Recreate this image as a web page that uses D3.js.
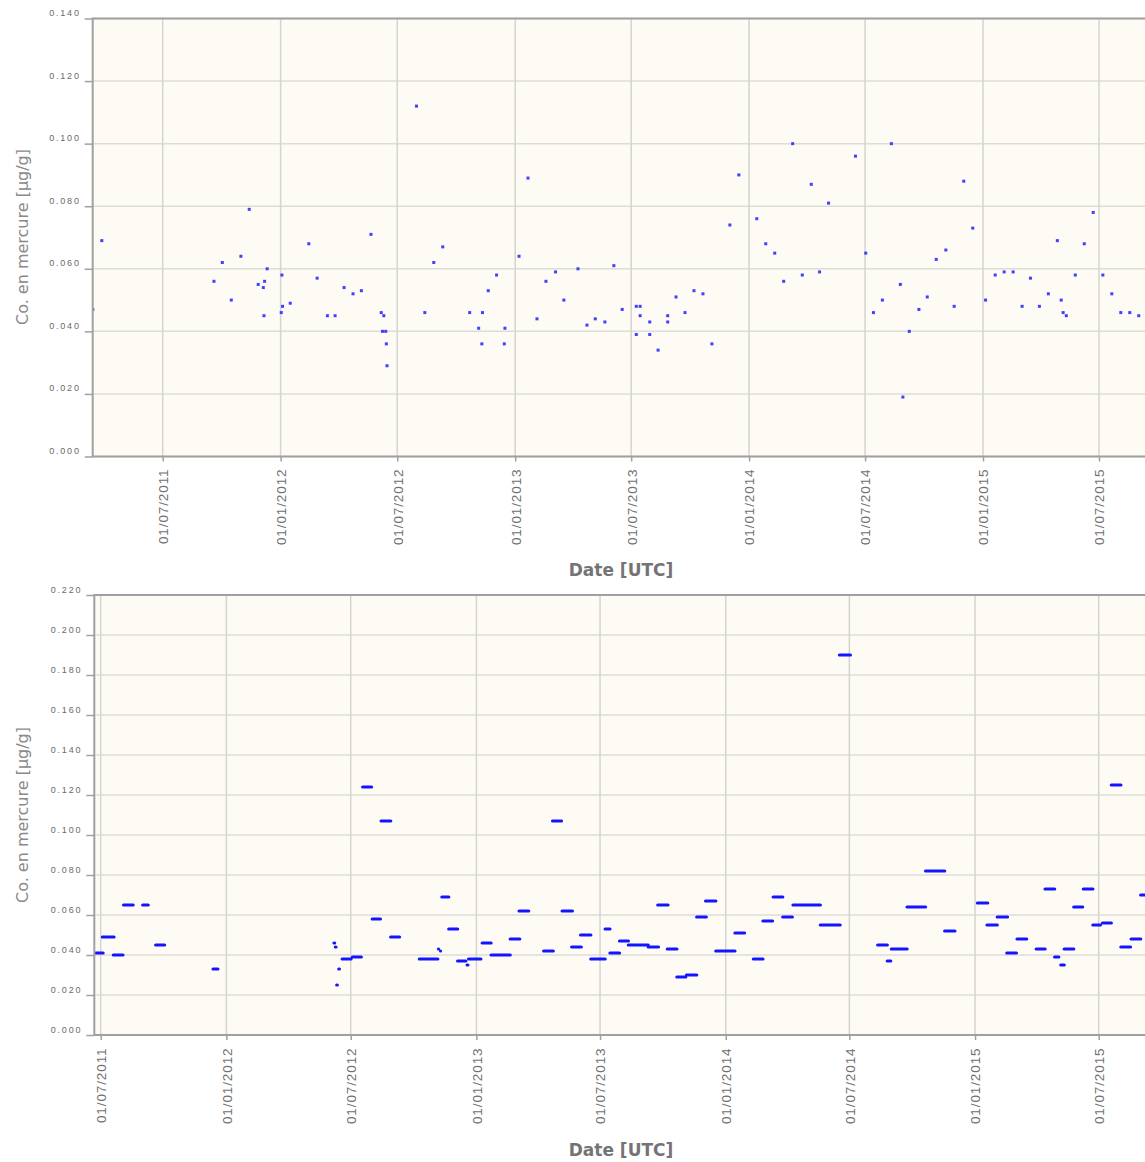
<!DOCTYPE html>
<html><head><meta charset="utf-8">
<script src="https://cdn.jsdelivr.net/npm/d3@7"></script>
<style>body{margin:0;background:#fff}svg{display:block}</style>
</head><body>
<svg id="c" width="1145" height="1162"></svg>
<script>
// ---- data ----
const xTickDates = ["2011-07-01","2012-01-01","2012-07-01","2013-01-01","2013-07-01","2014-01-01","2014-07-01","2015-01-01","2015-07-01"];
const xTickLabels = ["01/07/2011","01/01/2012","01/07/2012","01/01/2013","01/07/2013","01/01/2014","01/07/2014","01/01/2015","01/07/2015"];
const yTicksTop = [0,0.02,0.04,0.06,0.08,0.10,0.12,0.14];
const yTicksBottom = [0,0.02,0.04,0.06,0.08,0.10,0.12,0.14,0.16,0.18,0.20,0.22];
const yLabel = "Co. en mercure [µg/g]";
const xLabel = "Date [UTC]";

const topDates = ["2011-03-14","2011-03-28","2011-09-19","2011-10-02","2011-10-16","2011-10-31","2011-11-13","2011-11-27","2011-12-05","2011-12-07","2011-12-06","2011-12-11",
"2012-01-02","2012-01-03","2012-01-04","2012-01-16","2012-02-14","2012-02-27","2012-03-14","2012-03-26","2012-04-09","2012-04-23","2012-05-06","2012-05-21",
"2012-06-06","2012-06-10","2012-06-08","2012-06-13","2012-06-14","2012-06-15","2012-07-31","2012-08-13","2012-08-27","2012-09-10","2012-10-22","2012-11-05",
"2012-11-10","2012-11-11","2012-11-20","2012-12-03","2012-12-15","2012-12-16","2013-01-07","2013-01-21","2013-02-04","2013-02-18","2013-03-05","2013-03-18",
"2013-04-09","2013-04-23","2013-05-06","2013-05-21","2013-06-04","2013-06-17","2013-07-09","2013-07-09","2013-07-15","2013-07-15","2013-07-30","2013-07-30",
"2013-08-12","2013-08-27","2013-08-27","2013-09-09","2013-09-23","2013-10-07","2013-10-21","2013-11-04","2013-12-02","2013-12-16","2014-01-13","2014-01-27",
"2014-02-10","2014-02-24","2014-03-10","2014-03-25","2014-04-08","2014-04-21","2014-05-05","2014-06-16","2014-07-02","2014-07-14","2014-07-28","2014-08-11",
"2014-08-25","2014-08-29","2014-09-08","2014-09-23","2014-10-06","2014-10-20","2014-11-04","2014-11-17","2014-12-02","2014-12-16","2015-01-05","2015-01-20",
"2015-02-03","2015-02-17","2015-03-03","2015-03-16","2015-03-30","2015-04-13","2015-04-27","2015-05-03","2015-05-06","2015-05-11","2015-05-25","2015-06-08",
"2015-06-22","2015-07-07","2015-07-21","2015-08-04","2015-08-18","2015-09-01"];
const topValues = [0.047,0.069,0.056,0.062,0.050,0.064,0.079,0.055,0.054,0.056,0.045,0.060,
0.046,0.058,0.048,0.049,0.068,0.057,0.045,0.045,0.054,0.052,0.053,0.071,
0.046,0.045,0.040,0.040,0.036,0.029,0.112,0.046,0.062,0.067,0.046,0.041,
0.036,0.046,0.053,0.058,0.036,0.041,0.064,0.089,0.044,0.056,0.059,0.050,
0.060,0.042,0.044,0.043,0.061,0.047,0.039,0.048,0.048,0.045,0.043,0.039,
0.034,0.045,0.043,0.051,0.046,0.053,0.052,0.036,0.074,0.090,0.076,0.068,
0.065,0.056,0.100,0.058,0.087,0.059,0.081,0.096,0.065,0.046,0.050,0.100,
0.055,0.019,0.040,0.047,0.051,0.063,0.066,0.048,0.088,0.073,0.050,0.058,
0.059,0.059,0.048,0.057,0.048,0.052,0.069,0.050,0.046,0.045,0.058,0.068,
0.078,0.058,0.052,0.046,0.046,0.045];

const botStart = ["2011-06-22","2011-07-02","2011-07-18","2011-08-02","2011-08-30","2011-09-18","2011-12-11","2012-06-06","2012-06-08","2012-06-10","2012-06-13",
"2012-06-17","2012-07-02","2012-07-17","2012-07-31","2012-08-13","2012-08-27","2012-10-08","2012-11-05","2012-11-08","2012-11-10","2012-11-20","2012-12-03",
"2012-12-17","2012-12-19","2013-01-08","2013-01-21","2013-02-18","2013-03-03","2013-04-08","2013-04-21","2013-05-05","2013-05-19","2013-06-01","2013-06-16",
"2013-07-07","2013-07-14","2013-07-28","2013-08-10","2013-09-08","2013-09-22","2013-10-06","2013-10-20","2013-11-03","2013-11-18","2013-12-01","2013-12-16",
"2014-01-13","2014-02-09","2014-02-23","2014-03-10","2014-03-24","2014-04-08","2014-05-18","2014-06-15","2014-08-10","2014-08-24","2014-08-30","2014-09-22",
"2014-10-19","2014-11-16","2015-01-03","2015-01-17","2015-02-01","2015-02-15","2015-03-02","2015-03-30","2015-04-12","2015-04-26","2015-05-05","2015-05-10",
"2015-05-24","2015-06-07","2015-06-21","2015-07-05","2015-07-18","2015-08-01","2015-08-16","2015-08-30"];
const botEnd = ["2011-07-06","2011-07-22","2011-08-04","2011-08-19","2011-09-10","2011-10-04","2011-12-21","2012-06-08","2012-06-10","2012-06-12","2012-06-15",
"2012-07-03","2012-07-18","2012-08-02","2012-08-15","2012-08-30","2012-09-12","2012-11-07","2012-11-08","2012-11-11","2012-11-23","2012-12-06","2012-12-18",
"2012-12-21","2013-01-09","2013-01-24","2013-02-21","2013-03-07","2013-03-20","2013-04-25","2013-05-07","2013-05-23","2013-06-05","2013-06-19","2013-07-10",
"2013-07-17","2013-07-31","2013-08-13","2013-09-11","2013-09-26","2013-10-10","2013-10-23","2013-11-05","2013-11-21","2013-12-05","2013-12-19","2014-01-16",
"2014-01-30","2014-02-26","2014-03-12","2014-03-27","2014-04-10","2014-05-21","2014-06-19","2014-07-04","2014-08-27","2014-09-01","2014-09-25","2014-10-22",
"2014-11-19","2014-12-04","2015-01-21","2015-02-04","2015-02-19","2015-03-04","2015-03-19","2015-04-15","2015-04-29","2015-05-05","2015-05-13","2015-05-27",
"2015-06-09","2015-06-24","2015-07-05","2015-07-21","2015-08-04","2015-08-18","2015-09-02","2015-09-20"];
const botValues = [0.041,0.049,0.040,0.065,0.065,0.045,0.033,0.046,0.044,0.025,0.033,
0.038,0.039,0.124,0.058,0.107,0.049,0.038,0.043,0.042,0.069,0.053,0.037,
0.035,0.038,0.046,0.040,0.048,0.062,0.042,0.107,0.062,0.044,0.050,0.038,
0.053,0.041,0.047,0.045,0.044,0.065,0.043,0.029,0.030,0.059,0.067,0.042,
0.051,0.038,0.057,0.069,0.059,0.065,0.055,0.190,0.045,0.037,0.043,0.064,
0.082,0.052,0.066,0.055,0.059,0.041,0.048,0.043,0.073,0.039,0.035,0.043,
0.064,0.073,0.055,0.056,0.125,0.044,0.048,0.070];

// ---- drawing ----
const parse = d3.utcParse("%Y-%m-%d");
const svg = d3.select("#c");
const fmt = d3.format(".3f");

function panel(cfg) {
  const g = svg.append("g");
  const x = d3.scaleUtc().domain([parse(xTickDates[0]), parse(xTickDates[xTickDates.length-1])]).range(cfg.xr);
  const y = d3.scaleLinear().domain(cfg.yd).range([cfg.bottom, cfg.top]);
  const clipId = "clip" + cfg.id;
  svg.append("clipPath").attr("id", clipId).append("rect")
    .attr("x", cfg.left).attr("y", cfg.top).attr("width", cfg.right - cfg.left).attr("height", cfg.bottom - cfg.top);

  g.append("rect").attr("x", cfg.left).attr("y", cfg.top).attr("width", cfg.right - cfg.left).attr("height", cfg.bottom - cfg.top)
    .attr("fill", "#fdfbf3");
  // grid
  g.append("g").selectAll("line").data(cfg.yt).join("line")
    .attr("x1", cfg.left).attr("x2", cfg.right).attr("y1", d => y(d)).attr("y2", d => y(d))
    .attr("stroke", "#dcdcd8").attr("stroke-width", 1.5);
  g.append("g").selectAll("line").data(xTickDates).join("line")
    .attr("x1", d => x(parse(d))).attr("x2", d => x(parse(d))).attr("y1", cfg.top).attr("y2", cfg.bottom)
    .attr("stroke", "#d4d4d0").attr("stroke-width", 1.5);

  // marks
  const m = g.append("g").attr("clip-path", `url(#${clipId})`);
  cfg.marks(m, x, y);

  // frame
  g.append("rect").attr("x", cfg.left).attr("y", cfg.top).attr("width", cfg.right - cfg.left).attr("height", cfg.bottom - cfg.top)
    .attr("fill", "none").attr("stroke", "#a0a0a0").attr("stroke-width", 2);

  // y axis
  const ya = g.append("g").attr("transform", `translate(${cfg.left},0)`)
    .call(d3.axisLeft(y).tickValues(cfg.yt).tickFormat(fmt).tickSize(8).tickPadding(4));
  ya.select(".domain").remove();
  ya.selectAll("line").attr("stroke", "#a0a0a0").attr("stroke-width", 1.5);
  ya.selectAll("text").attr("dy", -3).attr("fill", "#6a6a6a")
    .style("font-family", "Liberation Sans").style("font-size", "9px").style("letter-spacing", "1.8px");

  // x axis
  const xa = g.append("g").attr("transform", `translate(0,${cfg.bottom})`)
    .call(d3.axisBottom(x).tickValues(xTickDates.map(parse)).tickFormat((d, i) => xTickLabels[i]).tickSize(5));
  xa.select(".domain").remove();
  xa.selectAll("line").attr("stroke", "#a0a0a0").attr("stroke-width", 1.5);
  xa.selectAll("text").attr("transform", "rotate(-90)").attr("text-anchor", "end")
    .attr("x", -cfg.xlabOff).attr("y", 0).attr("dy", "0.36em").attr("fill", "#707070")
    .style("font-family", "Liberation Sans").style("font-size", "13.5px").style("letter-spacing", "0.9px");

  // titles
  g.append("text").attr("transform", `translate(22,${cfg.ylabY}) rotate(-90)`).attr("text-anchor", "middle")
    .attr("dy", "0.35em").attr("fill", "#8a8a8a").style("font-family", "DejaVu Sans").style("font-size", "16px")
    .text(yLabel);
  g.append("text").attr("x", 621).attr("y", cfg.xlabY).attr("text-anchor", "middle").attr("dy", "0.35em")
    .attr("fill", "#747474").style("font-family", "DejaVu Sans").style("font-weight", "bold").style("font-size", "17px")
    .text(xLabel);
}

panel({
  id: "top", left: 92.7, right: 1160, top: 18.5, bottom: 456.5, xr: [162.7, 1099], yd: [0, 0.14], yt: yTicksTop,
  xlabOff: 12, ylabY: 237, xlabY: 570,
  marks: (m, x, y) => {
    m.selectAll("rect").data(topDates.map((d, i) => ({d: parse(d), v: topValues[i]}))).join("rect")
      .attr("x", p => x(p.d) - 1.5).attr("y", p => y(p.v) - 1.5).attr("width", 3).attr("height", 3)
      .attr("fill", "#4040ff");
  }
});

panel({
  id: "bot", left: 94.3, right: 1160, top: 595, bottom: 1035, xr: [100.7, 1098.7], yd: [0, 0.22], yt: yTicksBottom,
  xlabOff: 12.5, ylabY: 815, xlabY: 1150,
  marks: (m, x, y) => {
    m.selectAll("line").data(botStart.map((d, i) => ({s: parse(d), e: parse(botEnd[i]), v: botValues[i]}))).join("line")
      .attr("x1", p => x(p.s) + 1).attr("x2", p => x(p.e) - 1).attr("y1", p => y(p.v)).attr("y2", p => y(p.v))
      .attr("stroke", "#1414ff").attr("stroke-width", 3.2).attr("stroke-linecap", "round");
  }
});
</script>
</body></html>
